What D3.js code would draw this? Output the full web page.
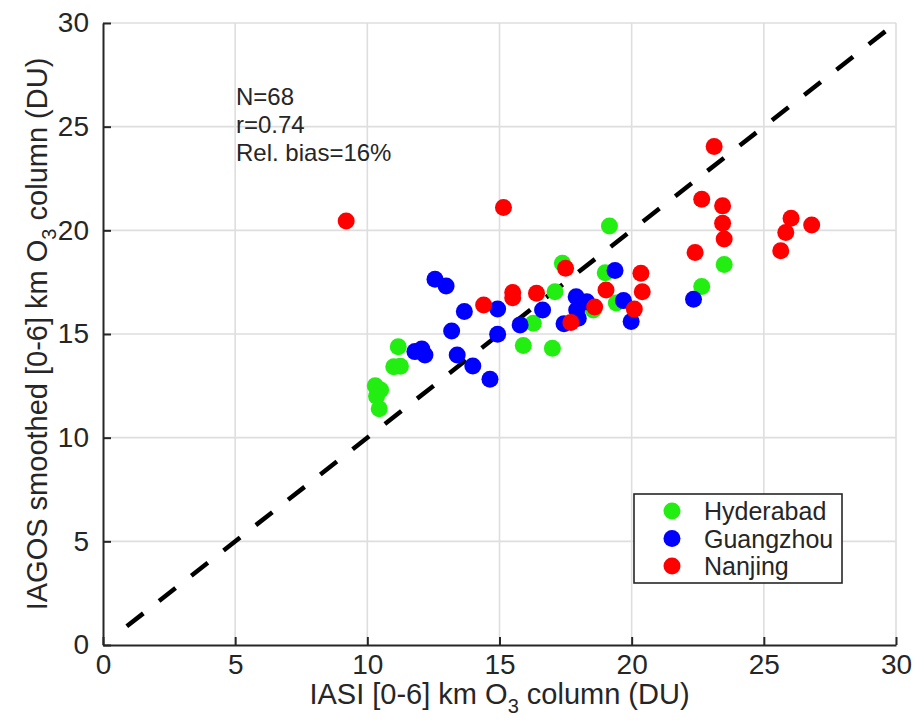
<!DOCTYPE html>
<html><head><meta charset="utf-8">
<script src="https://cdn.jsdelivr.net/npm/d3@7"></script>
<style>body{margin:0;background:#fff}svg{display:block}text{font-family:"Liberation Sans",Arial,Helvetica,sans-serif;fill:#262626}</style>
</head><body>
<svg id="c" width="914" height="724"></svg>
<script>
const seriesNames = ["Hyderabad","Guangzhou","Nanjing"];
const seriesColors = ["#22ee11","#0000ff","#ff0000"];
const hyderabad = [[19.16,20.21],[23.5,18.35],[22.65,17.29],[19.0,17.95],[19.42,16.5],[17.38,18.41],[17.1,17.04],[16.28,15.52],[15.9,14.44],[17.0,14.31],[18.55,16.16],[11.17,14.39],[11.0,13.42],[11.25,13.45],[10.3,12.5],[10.5,12.3],[10.35,12.0],[10.45,11.4]];
const guangzhou = [[12.56,17.64],[12.98,17.32],[13.67,16.08],[14.93,16.21],[13.19,15.15],[14.93,14.99],[15.78,15.44],[16.63,16.16],[17.9,16.8],[18.3,16.56],[17.92,16.16],[17.44,15.49],[17.98,15.76],[19.37,18.06],[19.69,16.61],[19.98,15.6],[11.8,14.15],[12.18,13.99],[12.06,14.28],[13.4,13.99],[13.99,13.46],[14.64,12.82],[22.34,16.68]];
const nanjing = [[9.2,20.45],[15.15,21.1],[14.4,16.4],[15.5,17.0],[15.5,16.75],[16.4,16.97],[17.5,18.17],[17.7,15.55],[18.6,16.3],[19.03,17.12],[20.1,16.2],[20.35,17.93],[20.4,17.04],[22.4,18.93],[22.65,21.5],[23.12,24.04],[23.44,21.18],[23.44,20.34],[23.5,19.58],[25.64,19.02],[25.83,19.89],[26.03,20.58],[26.81,20.26]];
const xTicks = [0,5,10,15,20,25,30];
const yTicks = [0,5,10,15,20,25,30];
const oneToOne = [[0.9,0.9],[29.7,29.7]];
const statLines = ["N=68","r=0.74","Rel. bias=16%"];

const svg = d3.select("#c");
const x = d3.scaleLinear().domain([0,30]).range([103,896]);
const y = d3.scaleLinear().domain([0,30]).range([645,23]);

// grid
svg.append("g").selectAll("line").data(xTicks.filter(d=>d>0)).join("line")
  .attr("x1",d=>x(d)).attr("x2",d=>x(d)).attr("y1",y(0)).attr("y2",y(30))
  .attr("stroke","#dedede").attr("stroke-width",1.6);
svg.append("g").selectAll("line").data(yTicks.filter(d=>d>0)).join("line")
  .attr("y1",d=>y(d)).attr("y2",d=>y(d)).attr("x1",x(0)).attr("x2",x(30))
  .attr("stroke","#dedede").attr("stroke-width",1.6);

// axes
const xAxis = d3.axisBottom(x).tickValues(xTicks).tickSizeInner(-8).tickSizeOuter(0).tickPadding(9);
const yAxis = d3.axisLeft(y).tickValues(yTicks).tickSizeInner(-8).tickSizeOuter(0).tickPadding(14);
const gx = svg.append("g").attr("transform",`translate(0,${y(0)})`).call(xAxis);
const gy = svg.append("g").attr("transform",`translate(${x(0)},0)`).call(yAxis);
[gx,gy].forEach(g=>{
  g.select(".domain").attr("stroke","#262626").attr("stroke-width",2);
  g.selectAll(".tick line").attr("stroke","#262626").attr("stroke-width",2);
  g.selectAll(".tick text").attr("font-size",28).attr("fill","#262626")
   .style("font-family",'"Liberation Sans",Arial,sans-serif');
});

// 1:1 dashed line
svg.append("path").attr("d",d3.line().x(d=>x(d[0])).y(d=>y(d[1]))(oneToOne))
  .attr("stroke","#000").attr("stroke-width",4.5).attr("stroke-dasharray","21,20").attr("fill","none");

// points
const all = [hyderabad,guangzhou,nanjing];
all.forEach((arr,i)=>{
  svg.append("g").selectAll("circle").data(arr).join("circle")
    .attr("cx",d=>x(d[0])).attr("cy",d=>y(d[1])).attr("r",8.5)
    .attr("fill",seriesColors[i]);
});

// stats text
svg.append("g").selectAll("text").data(statLines).join("text")
  .attr("x",236).attr("y",(d,i)=>105+i*28).attr("font-size",24).text(d=>d);

// legend
const lg = svg.append("g");
lg.append("rect").attr("x",634).attr("y",494).attr("width",208).attr("height",89)
  .attr("fill","#fff").attr("stroke","#262626").attr("stroke-width",1.6);
seriesNames.forEach((n,i)=>{
  lg.append("circle").attr("cx",672).attr("cy",511+i*27.5).attr("r",8.5).attr("fill",seriesColors[i]);
  lg.append("text").attr("x",704).attr("y",511+i*27.5).attr("dy","0.36em").attr("font-size",25).text(n);
});

// axis titles
const xt = svg.append("text").attr("x",x(15)).attr("y",704).attr("text-anchor","middle").attr("font-size",29);
xt.append("tspan").text("IASI [0-6] km O");
xt.append("tspan").attr("font-size",20).attr("dy",9).text("3");
xt.append("tspan").attr("dy",-9).text(" column (DU)");

const yt = svg.append("text").attr("transform",`translate(47,${(y(0)+y(30))/2}) rotate(-90)`)
  .attr("text-anchor","middle").attr("font-size",29);
yt.append("tspan").text("IAGOS smoothed [0-6] km O");
yt.append("tspan").attr("font-size",20).attr("dy",9).text("3");
yt.append("tspan").attr("dy",-9).text(" column (DU)");
</script>
</body></html>
